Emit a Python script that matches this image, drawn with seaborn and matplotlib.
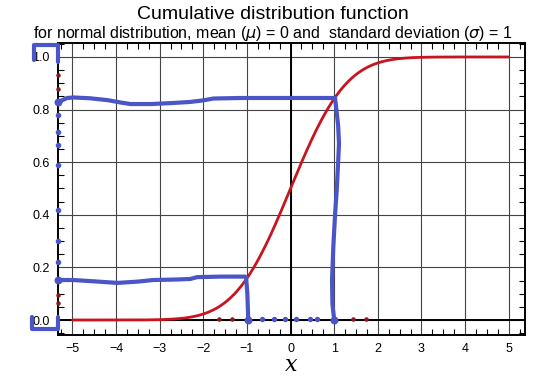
import numpy as np
import pandas as pd
import matplotlib
matplotlib.use("Agg")
import matplotlib.pyplot as plt
import seaborn as sns
from matplotlib.ticker import MultipleLocator
from math import erf, sqrt

# ---- data ----
x_vals = np.linspace(-5, 5, 401)
cdf_vals = np.array([0.5 * (1 + erf(v / sqrt(2))) for v in x_vals])

x_ticks = [-5, -4, -3, -2, -1, 0, 1, 2, 3, 4, 5]
y_ticks = [0.0, 0.2, 0.4, 0.6, 0.8, 1.0]

# hand-drawn blue annotation strokes
upper_x = [-5.32, -5.12, -4.98, -4.6, -4.2, -3.9, -3.67, -3.2, -2.69, -2.3, -2.0, -1.77, -1.16, 1.02]
upper_y = [0.829, 0.844, 0.846, 0.843, 0.836, 0.827, 0.821, 0.821, 0.825, 0.829, 0.835, 0.842, 0.844, 0.844]
upper_v_x = [1.02, 1.05, 1.09, 1.11, 1.09, 1.06, 1.02, 0.98, 0.95, 0.96, 1.0]
upper_v_y = [0.844, 0.80, 0.74, 0.67, 0.60, 0.50, 0.40, 0.28, 0.15, 0.06, 0.0]

lower_x = [-5.32, -4.98, -4.5, -3.97, -3.5, -3.15, -2.6, -2.3, -2.14, -1.6, -1.04]
lower_y = [0.152, 0.152, 0.147, 0.141, 0.146, 0.152, 0.154, 0.156, 0.163, 0.165, 0.165]
lower_v_x = [-1.02, -0.99, -0.97]
lower_v_y = [0.162, 0.10, 0.0]

blue_dot_y = [0.78, 0.715, 0.665, 0.59, 0.42, 0.30, 0.22]
red_dot_y = [0.93, 0.88, 0.095, 0.065]
blue_dot_x = [-0.65, -0.38, -0.13, 0.13, 0.45, 0.6]
red_dot_x = [-1.64, -1.34, 1.43, 1.73]

bracket_top_x = [-5.89, -5.89, -5.32, -5.32]
bracket_top_y = [0.989, 1.046, 1.046, 0.98]
bracket_bot_x = [-5.93, -5.93, -5.32, -5.32]
bracket_bot_y = [0.011, -0.034, -0.034, 0.01]

# ---- style ----
sns.set_theme(style="white")
plt.rcParams['font.family'] = ['Liberation Sans', 'DejaVu Sans']
plt.rcParams['text.color'] = 'black'
plt.rcParams['xtick.color'] = 'black'
plt.rcParams['ytick.color'] = 'black'
plt.rcParams['axes.labelcolor'] = 'black'

fig = plt.figure(figsize=(5.4, 3.79), dpi=100)
ax = fig.add_axes([0.1074, 0.1161, 0.8646, 0.7704])

df = pd.DataFrame({"x": x_vals, "cdf": cdf_vals})

ax.set_xlim(-5.33, 5.37)
ax.set_ylim(-0.057, 1.053)

# grid
for t in x_ticks:
    ax.axvline(t, color="#444444", lw=0.8, zorder=1)
for t in y_ticks:
    ax.axhline(t, color="#444444", lw=0.8, zorder=1)
ax.axhline(0, color="black", lw=1.4, zorder=2)
ax.axvline(0, color="black", lw=1.4, zorder=2)

sns.lineplot(data=df, x="x", y="cdf", ax=ax, color="#c8141e", lw=2.0, zorder=3)

blue = "#4a55c8"
kw = dict(color=blue, lw=3.0, solid_capstyle="round", solid_joinstyle="round", zorder=4)
ax.plot(upper_x, upper_y, **kw)
ax.plot(upper_v_x, upper_v_y, **kw)
ax.plot(lower_x, lower_y, **kw)
ax.plot(lower_v_x, lower_v_y, **kw)
ax.plot(bracket_top_x, bracket_top_y, clip_on=False, **kw)
ax.plot(bracket_bot_x, bracket_bot_y, clip_on=False, **kw)

ax.scatter([upper_x[0], lower_x[0]], [upper_y[0], lower_y[0]], s=22, color=blue, zorder=5, clip_on=False)
ax.scatter([-5.32] * len(blue_dot_y), blue_dot_y, s=9, color=blue, zorder=5, clip_on=False)
ax.scatter([-5.33] * len(red_dot_y), red_dot_y, s=5, color="#8b1a1a", zorder=5, clip_on=False)
ax.scatter(blue_dot_x, [0.005] * len(blue_dot_x), s=8, color=blue, zorder=5)
ax.scatter(red_dot_x, [0.005] * len(red_dot_x), s=5, color="#8b1a1a", zorder=5)
ax.scatter([1.0, -0.97], [0.0, 0.0], s=22, color=blue, zorder=5)

# ticks
ax.set_xticks(x_ticks)
ax.set_yticks(y_ticks)
ax.set_xticklabels([str(t).replace("-", "\u2212") for t in x_ticks], fontsize=9)
ax.set_yticklabels([f"{t:.1f}" for t in y_ticks], fontsize=9)
ax.xaxis.set_minor_locator(MultipleLocator(0.25))
ax.yaxis.set_minor_locator(MultipleLocator(0.05))
ax.tick_params(which="major", length=0, pad=6, colors="black")
ax.tick_params(which="minor", direction="in", length=4, width=0.8, color="black",
               top=True, bottom=True, left=True, right=True)

for s in ax.spines.values():
    s.set_color("black")
    s.set_linewidth(1.4)

ax.set_xlabel("x", fontsize=16, family="DejaVu Serif", style="italic", labelpad=-1)
ax.set_ylabel("")

fig.text(0.505, 0.962, "Cumulative distribution function", ha="center", va="center", fontsize=14)
fig.text(0.505, 0.912, "for normal distribution, mean ($\\mu$) = 0 and  standard deviation ($\\sigma$) = 1",
         ha="center", va="center", fontsize=11.5)

fig.savefig("out.png", dpi=100)
